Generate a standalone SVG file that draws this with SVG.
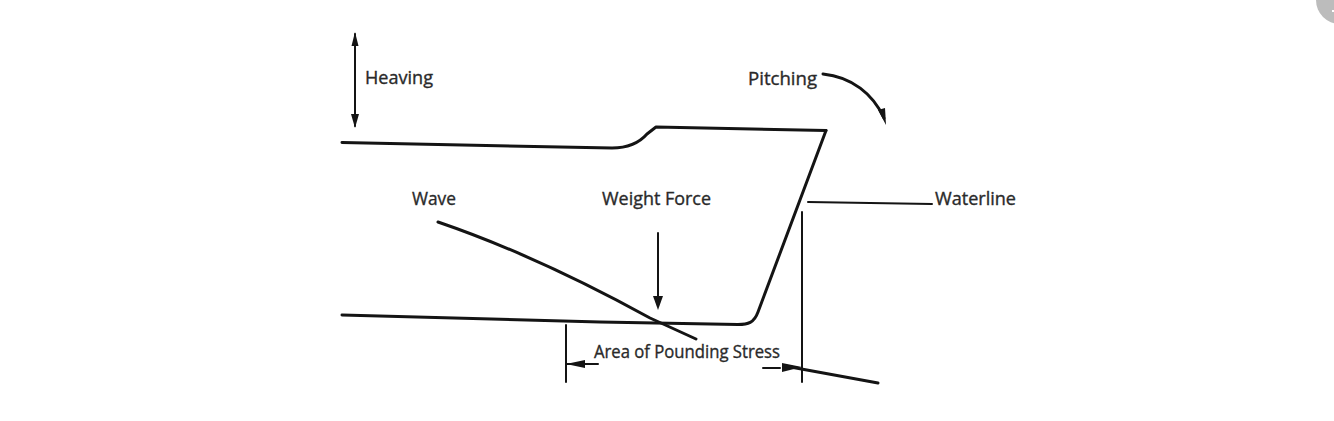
<svg xmlns="http://www.w3.org/2000/svg" width="1334" height="421" viewBox="0 0 1334 421">
  <style>
    .ln{fill:none;stroke:#141414;stroke-linecap:round;stroke-linejoin:round}
    .thick{stroke-width:3}
    .mid{stroke-width:2}
    .ah{fill:#141414;stroke:none}
    text{font-family:"Open Sans","Noto Sans","DejaVu Sans",sans-serif;font-size:17.5px;fill:#2a2a2a;stroke:#2a2a2a;stroke-width:.35px}
  </style>
  <rect width="1334" height="421" fill="#fff"/>
  <g id="corner-button">
    <circle cx="1340" cy="0" r="24" fill="#bcbcbc"/>
    <rect x="1332" y="10" width="2" height="2" fill="#fff"/>
  </g>
  <g id="connectors">
    <path id="hull-top" class="ln thick" d="M342 142.500L612 148C628 148 640 142 647 134L656 127L826 130.500"/>
    <path id="hull-bow" class="ln thick" d="M826 130.500L758 312C754 323 748 324.500 738 324.500L600 322L342 315"/>
    <path id="wave" class="ln thick" d="M438 222C520 250 590 285 650 318L696 339"/>
    <path id="heaving-line" class="ln mid" d="M355 34V126"/>
    <path class="ah" d="M355 32L358.500 46H351.500Z"/>
    <path class="ah" d="M355 128L351 114H359Z"/>
    <path id="pitching-arrow" class="ln thick" d="M823 74C852 77 873 94 884 118"/>
    <path class="ah" d="M886 125L878 110L885 108Z"/>
    <path id="waterline-line" class="ln mid" d="M808 202L932 204"/>
    <path id="waterline-drop" class="ln mid" d="M802 212V382"/>
    <path id="weight-arrow" class="ln mid" d="M658 233V300"/>
    <path class="ah" d="M658 310L653 296H663Z"/>
    <path id="stress-left" class="ln mid" d="M566 325V382"/>
    <path class="ln mid" d="M566 364L598 364"/>
    <path class="ah" d="M566 364L585 360V368Z"/>
    <path class="ln mid" d="M763 368H780"/>
    <path class="ah" d="M802 367L782 363V372Z"/>
    <path id="waterline-slope" class="ln thick" d="M785 366L878 383"/>
  </g>
  <g id="heaving"><text x="365" y="83.500" textLength="68" lengthAdjust="spacingAndGlyphs">Heaving</text></g>
  <g id="pitching"><text x="748" y="84.500" textLength="69" lengthAdjust="spacingAndGlyphs">Pitching</text></g>
  <g id="wave-label"><text x="412" y="205" textLength="44" lengthAdjust="spacingAndGlyphs">Wave</text></g>
  <g id="weight-force"><text x="602" y="205" textLength="109" lengthAdjust="spacingAndGlyphs">Weight Force</text></g>
  <g id="waterline"><text x="935" y="205" textLength="81" lengthAdjust="spacingAndGlyphs">Waterline</text></g>
  <g id="area"><text x="594" y="358" textLength="186" lengthAdjust="spacingAndGlyphs">Area of Pounding Stress</text></g>
</svg>
